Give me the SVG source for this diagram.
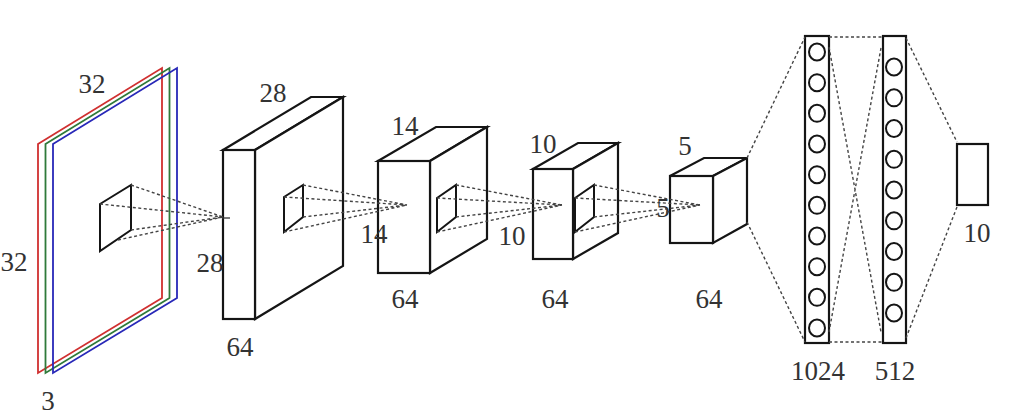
<svg xmlns="http://www.w3.org/2000/svg" width="1031" height="416" viewBox="0 0 1031 416">
<style>
.bx{fill:#fff;stroke:#151515;stroke-width:2.2;stroke-linejoin:miter}
.sq{fill:none;stroke:#151515;stroke-width:2}
.pl{fill:none;stroke-width:1.8}
.d{fill:none;stroke:#444;stroke-width:1.4;stroke-dasharray:3 2.5}
.c ellipse{fill:none;stroke:#151515;stroke-width:2;rx:8px;ry:8.5px}
text{font-family:"Liberation Serif","Times New Roman",serif;font-size:27px;fill:#333;text-anchor:middle}
</style>
<rect width="1031" height="416" fill="#fff"/>
<g id="input">
<path class="pl" stroke="#d03030" d="M38,144 L162,68 L162,298 L38,373 Z"/>
<path class="pl" stroke="#2f7a3a" d="M45.5,144 L169.5,68 L169.5,298 L45.5,373 Z"/>
<path class="pl" stroke="#2828b8" d="M53,144 L177,68 L177,298 L53,373 Z"/>
<path class="sq" d="M100,204 L131,185 L131,230 L100,251 Z"/>
<text x="92" y="93">32</text>
<text x="14" y="271">32</text>
<text x="48" y="410">3</text>
</g>
<g id="conv1">
<path class="bx" d="M223,150 L311,97 L343,97 L255,150 Z"/>
<path class="bx" d="M255,150 L343,97 L343,266 L255,319 Z"/>
<rect class="bx" x="223" y="150" width="32" height="169"/>
<path class="sq" d="M284,197 L303,185 L303,217 L284,232 Z"/>
<text x="273" y="102">28</text>
<text x="210" y="272">28</text>
<text x="240" y="356">64</text>
</g>
<g id="pool1">
<path class="bx" d="M378,161 L436,127 L487,127 L430,161 Z"/>
<path class="bx" d="M430,161 L487,127 L487,239 L430,273 Z"/>
<rect class="bx" x="378" y="161" width="52" height="112"/>
<path class="sq" d="M437,198 L456,185 L456,217 L437,232 Z"/>
<text x="405" y="135">14</text>
<text x="374" y="243">14</text>
<text x="405" y="308">64</text>
</g>
<g id="conv2">
<path class="bx" d="M533,169 L578,143 L618,143 L573,169 Z"/>
<path class="bx" d="M573,169 L618,143 L618,233 L573,259 Z"/>
<rect class="bx" x="533" y="169" width="40" height="90"/>
<path class="sq" d="M575,198 L594,185 L594,217 L575,232 Z"/>
<text x="543" y="153">10</text>
<text x="512" y="245">10</text>
<text x="555" y="308">64</text>
</g>
<g id="pool2">
<path class="bx" d="M670,176 L704,158 L747,158 L713,176 Z"/>
<path class="bx" d="M713,176 L747,158 L747,224 L713,243 Z"/>
<rect class="bx" x="670" y="176" width="43" height="67"/>
<text x="685" y="155">5</text>
<text x="663" y="217">5</text>
<text x="709" y="308">64</text>
</g>
<g id="fc1">
<rect class="bx" x="805" y="36" width="24" height="307"/>
<g class="c">
<ellipse cx="817" cy="52" rx="8" ry="8.5"/>
<ellipse cx="817" cy="82.7" rx="8" ry="8.5"/>
<ellipse cx="817" cy="113.3" rx="8" ry="8.5"/>
<ellipse cx="817" cy="144" rx="8" ry="8.5"/>
<ellipse cx="817" cy="174.7" rx="8" ry="8.5"/>
<ellipse cx="817" cy="205.3" rx="8" ry="8.5"/>
<ellipse cx="817" cy="236" rx="8" ry="8.5"/>
<ellipse cx="817" cy="266.7" rx="8" ry="8.5"/>
<ellipse cx="817" cy="297.3" rx="8" ry="8.5"/>
<ellipse cx="817" cy="328" rx="8" ry="8.5"/>
</g>
<text x="818" y="380">1024</text>
</g>
<g id="fc2">
<rect class="bx" x="883" y="36" width="23" height="307"/>
<g class="c">
<ellipse cx="894" cy="67" rx="8" ry="8.5"/>
<ellipse cx="894" cy="97.8" rx="8" ry="8.5"/>
<ellipse cx="894" cy="128.5" rx="8" ry="8.5"/>
<ellipse cx="894" cy="159.3" rx="8" ry="8.5"/>
<ellipse cx="894" cy="190" rx="8" ry="8.5"/>
<ellipse cx="894" cy="220.8" rx="8" ry="8.5"/>
<ellipse cx="894" cy="251.5" rx="8" ry="8.5"/>
<ellipse cx="894" cy="282.3" rx="8" ry="8.5"/>
<ellipse cx="894" cy="313" rx="8" ry="8.5"/>
</g>
<text x="895" y="380">512</text>
</g>
<g id="output">
<rect class="bx" x="957" y="144" width="31" height="61"/>
<text x="977" y="242">10</text>
</g>
<g id="connectors">
<path class="d" d="M131,185 L223,217 M100,204 L223,217 M131,230 L223,217 M118,240 L223,217"/>
<path stroke="#333" stroke-width="1.3" d="M222,218 L230,218"/>
<path class="d" d="M303,185 L407,205 M284,197 L407,205 M303,217 L407,205 M284,232 L407,205"/>
<path class="d" d="M456,185 L562,205 M437,198 L562,205 M456,217 L562,205 M437,232 L562,205"/>
<path class="d" d="M594,185 L700,205 M575,198 L700,205 M594,217 L700,205 M575,232 L700,205"/>
<path class="d" d="M747,158 L805,37 M747,222 L805,342"/>
<path class="d" d="M829,37 L883,37 M829,342 L883,342"/>
<path class="d" d="M829,47 L881,332 M881,48 L829,332"/>
<path class="d" d="M906,38 L957,142 M906,338 L957,207"/>
</g>
</svg>
